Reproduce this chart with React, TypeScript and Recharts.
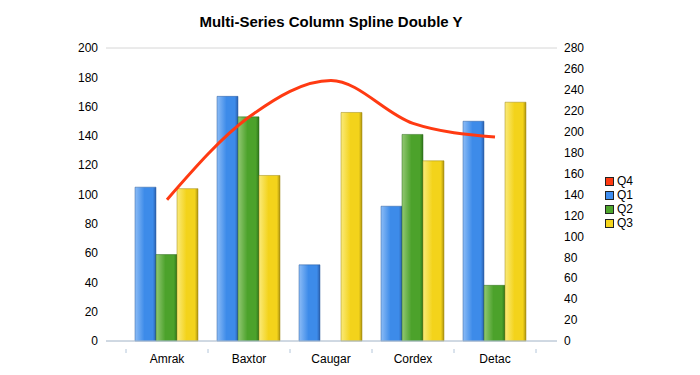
import React from 'react';
import {
  ComposedChart,
  Bar,
  Line,
  XAxis,
  YAxis,
  CartesianGrid,
} from 'recharts';

const categories = ['Amrak', 'Baxtor', 'Caugar', 'Cordex', 'Detac'];
const q1 = [105, 167, 52, 92, 150];
const q2 = [59, 153, null, 141, 38];
const q3 = [104, 113, 156, 123, 163];
const q4 = [135, 214, 249, 208, 195];

const leftTicks = [0, 20, 40, 60, 80, 100, 120, 140, 160, 180, 200];
const rightTicks = [0, 20, 40, 60, 80, 100, 120, 140, 160, 180, 200, 220, 240, 260, 280];

const data = categories.map((name, i) => ({
  name,
  Q1: q1[i],
  Q2: q2[i],
  Q3: q3[i],
  Q4: q4[i],
}));

const FONT = '"Liberation Sans", Arial, sans-serif';

const legendItems = [
  { label: 'Q4', color: '#ff3a12' },
  { label: 'Q1', color: '#3f8ef0' },
  { label: 'Q2', color: '#4ea62c' },
  { label: 'Q3', color: '#f5d51c' },
];

function CategoryTick(props: any) {
  const { x, y, payload, index } = props;
  const half = payload?.offset ?? 41;
  return (
    <g>
      <line x1={x - half} y1={y} x2={x - half} y2={y + 4} stroke="#b4c6da" />
      {index === categories.length - 1 && (
        <line x1={x + half} y1={y} x2={x + half} y2={y + 4} stroke="#b4c6da" />
      )}
      <text x={x} y={y + 14} textAnchor="middle" fontSize={12} fill="#000" fontFamily={FONT}>
        {payload.value}
      </text>
    </g>
  );
}

function LegendBox() {
  return (
    <div
      style={{
        position: 'absolute',
        left: 605,
        top: 174,
        fontFamily: FONT,
        fontSize: 12,
      }}
    >
      {legendItems.map((it) => (
        <div key={it.label} style={{ display: 'flex', alignItems: 'center', height: 14 }}>
          <span
            style={{
              width: 7,
              height: 7,
              background: it.color,
              border: '1px solid #222',
              marginRight: 3,
            }}
          />
          <span>{it.label}</span>
        </div>
      ))}
    </div>
  );
}

function gradient(id: string, light: string, mid: string, dark: string) {
  return (
    <linearGradient id={id} x1="0" y1="0" x2="1" y2="0">
      <stop offset="0%" stopColor={light} />
      <stop offset="45%" stopColor={mid} />
      <stop offset="85%" stopColor={mid} />
      <stop offset="100%" stopColor={dark} />
    </linearGradient>
  );
}

export default function App() {
  return (
    <div style={{ position: 'absolute', left: 0, top: 0, width: 700, height: 375, background: '#fff' }}>
      <div
        style={{
          position: 'absolute',
          left: 0,
          top: 13,
          width: 662,
          textAlign: 'center',
          fontFamily: FONT,
          fontWeight: 'bold',
          fontSize: 15,
        }}
      >
        Multi-Series Column Spline Double Y
      </div>
      <ComposedChart
        width={700}
        height={375}
        data={data}
        margin={{ top: 48, right: 83, bottom: 4, left: 46 }}
        barCategoryGap={9}
        barGap={0}
      >
        <defs>
          {gradient('gBlue', '#8cbcf6', '#3d8be9', '#2a5fae')}
          {gradient('gGreen', '#93c874', '#4ca22b', '#2e751b')}
          {gradient('gYellow', '#faea7a', '#f3d31b', '#ad930f')}
        </defs>
        <CartesianGrid vertical={false} stroke="#d6d6d6" />
        <XAxis
          dataKey="name"
          height={30}
          padding={{ left: 20, right: 21 }}
          axisLine={{ stroke: '#b4c6da' }}
          tickLine={false}
          tick={<CategoryTick />}
          interval={0}
        />
        <YAxis
          yAxisId="left"
          width={60}
          domain={[0, 200]}
          ticks={leftTicks}
          axisLine={false}
          tickLine={false}
          tickSize={0}
          tickMargin={8}
          tick={{ fontSize: 12, fill: '#000', fontFamily: FONT }}
        />
        <YAxis
          yAxisId="right"
          orientation="right"
          width={60}
          domain={[0, 280]}
          ticks={rightTicks}
          axisLine={false}
          tickLine={false}
          tickSize={0}
          tickMargin={7}
          tick={{ fontSize: 12, fill: '#000', fontFamily: FONT }}
        />
        <Bar yAxisId="left" dataKey="Q1" fill="url(#gBlue)" stroke="#2c5c9c" strokeWidth={0.5} isAnimationActive={false} />
        <Bar yAxisId="left" dataKey="Q2" fill="url(#gGreen)" stroke="#2e6a1c" strokeWidth={0.5} isAnimationActive={false} />
        <Bar yAxisId="left" dataKey="Q3" fill="url(#gYellow)" stroke="#9c8610" strokeWidth={0.5} isAnimationActive={false} />
        <Line
          yAxisId="right"
          type="monotone"
          dataKey="Q4"
          stroke="#ff3a12"
          strokeWidth={3}
          dot={false}
          activeDot={false}
          isAnimationActive={false}
        />
      </ComposedChart>
      <LegendBox />
    </div>
  );
}
